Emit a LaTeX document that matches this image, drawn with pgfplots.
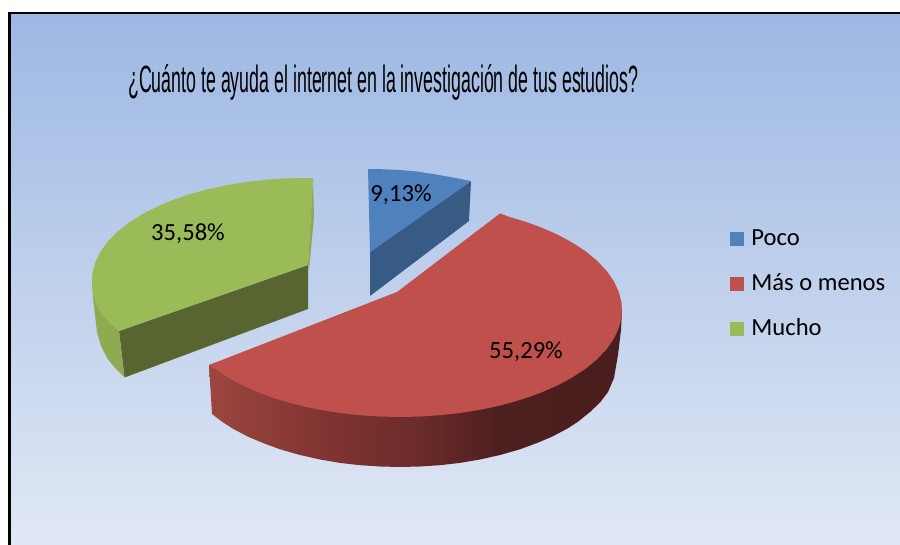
\documentclass[border=0pt]{standalone}
\usepackage{fontspec}
\setmainfont{Carlito}
\newfontfamily\titlefont{Liberation Sans}
\usepackage{pgfplots}
\pgfplotsset{compat=1.18}
\definecolor{bgtop}{HTML}{9DB8E3}
\definecolor{bgmid}{HTML}{BACCEC}
\definecolor{bgbot}{HTML}{E1E8F5}
\definecolor{poco}{HTML}{4F81BD}
\definecolor{pocodark}{HTML}{375B85}
\definecolor{mas}{HTML}{BF504B}
\definecolor{mucho}{HTML}{9BBB59}
\definecolor{muchodark}{HTML}{586530}
\definecolor{muchoside}{HTML}{8FAA50}
\definecolor{rsa}{HTML}{9C4640}
\definecolor{rsb}{HTML}{7E3330}
\definecolor{rsc}{HTML}{6C2C2A}
\definecolor{rsd}{HTML}{4E1F1F}
\definecolor{rse}{HTML}{4A1E1E}
\pgfdeclarehorizontalshading{redside}{100bp}{
  color(0bp)=(rsa);color(25bp)=(rsa);
  color(40bp)=(rsb);color(50bp)=(rsc);
  color(60bp)=(rsd);color(75bp)=(rse);color(100bp)=(rse)}
\begin{document}
\begin{tikzpicture}
\begin{axis}[
  scale only axis, width=450pt, height=272.5pt,
  xmin=0, xmax=900, ymin=0, ymax=545, y dir=reverse,
  hide axis,
  legend style={at={(axis cs:730,227)}, anchor=north west, draw=none, fill=none,
    font=\fontsize{12.3}{12.3}\selectfont, row sep=8.35pt, column sep=1.5pt, inner sep=0pt, outer sep=0pt,
    nodes={text height=9pt, text depth=5.15pt, inner xsep=2.2pt, inner ysep=0pt}},
  legend cell align=left,
  legend image code/.code={\path[#1] (0pt,-2.2pt) rectangle (7pt,4.8pt);},
]
% background and frame
\addplot[fill=white, draw=none, forget plot] coordinates {(0,0) (900,0) (900,545) (0,545)} -- cycle;
\addplot[draw=none, top color=bgtop, middle color=bgmid, bottom color=bgbot, forget plot]
  coordinates {(10,13) (900,13) (900,545) (10,545)} -- cycle;
\addplot[black, line width=1.25pt, forget plot] coordinates {(9.5,546) (9.5,13.2) (901,13.2)};

% blue slice side
\addplot[fill=pocodark, draw=none, forget plot]
  coordinates {(370,252) (471,181) (469,221) (370,296)} -- cycle;
% red slice side
\addplot[shading=redside, draw=none, forget plot]
  coordinates {(209,365) (212,414) (222,421.7) (233,428.8) (248,436.7) (263,443) (280,449.3) (300,455)
    (320,459.5) (340,462.9) (360,465.2) (380,466.5) (400,467) (420,466.5) (440,465.2) (460,462.9)
    (480,459.5) (500,455) (520,449.3) (537,443) (552,436.7) (567,428.8) (578,421.7) (590,412)
    (600,402.5) (608,392) (614,378) (618,355) (621,330) (622,310) (400,300)} -- cycle;
% green slice sides
\addplot[fill=muchodark, draw=none, forget plot]
  coordinates {(308,265) (308,309) (124.5,377.5) (119,331)} -- cycle;
\addplot[fill=muchoside, draw=none, forget plot]
  coordinates {(92,280) (93,298) (97,332) (101,346) (107,358) (115,368) (124.5,377.5) (119,331)} -- cycle;
\addplot[fill=muchoside, draw=none, forget plot]
  coordinates {(313,178) (314,217) (309,270) (308,265)} -- cycle;

% slice tops, these give the legend swatches
\addplot[fill=poco, draw=none]
  coordinates {(368,169) (385,169.3) (400,170) (417,171.5) (433,174) (452,177.3) (471,181) (370,252)} -- cycle;
\addlegendentry{Poco}
\addplot[fill=mas, draw=none]
  coordinates {(500,213.5) (510,217.1) (525,221.6) (540,227) (555,233.4) (570,241.2) (585,250.8) (597,260.7)
    (607,271.3) (614,281.5) (619,292.5) (621.5,302.8) (622,310) (621.5,317.2) (619,327.5) (614,338.5)
    (607,348.7) (597,359.3) (585,369.2) (570,378.8) (555,386.6) (540,393) (525,398.4) (510,402.9)
    (495,406.7) (480,409.8) (460,413) (440,415.2) (420,416.6) (400,417) (380,416.6) (360,415.2) (340,413)
    (320,409.8) (305,406.7) (290,402.9) (275,398.4) (260,393) (245,386.6) (230,378.8) (215,369.2) (209,365)
    (397,292)} -- cycle;
\addlegendentry{Más o menos}
\addplot[fill=mucho, draw=none]
  coordinates {(313,178.1) (300,178.1) (285,178.4) (265,179.8) (245,182.1) (225,185.5) (205,190) (190,194.1)
    (175,199.2) (160,205.3) (145,212.7) (130,221.9) (118,231.2) (108,241.2) (100,252.3) (95,263) (92.5,273)
    (92,280) (92.5,289) (94,299) (98,308) (102,315) (110,323) (119,331) (308,265)} -- cycle;
\addlegendentry{Mucho}

% labels and title
\node[font=\fontsize{12.3}{12.3}\selectfont, anchor=base] at (axis cs:188,241) {35,58\%};
\node[font=\fontsize{12.3}{12.3}\selectfont, anchor=base] at (axis cs:401,202) {9,13\%};
\node[font=\fontsize{12.3}{12.3}\selectfont, anchor=base] at (axis cs:526,358) {55,29\%};
\node[font=\titlefont\fontsize{19}{19}\selectfont, anchor=base west, xscale=0.468, inner sep=0pt]
  at (axis cs:128,93) {¿Cuánto te ayuda el internet en la investigación de tus estudios?};
\end{axis}
\end{tikzpicture}
\end{document}
